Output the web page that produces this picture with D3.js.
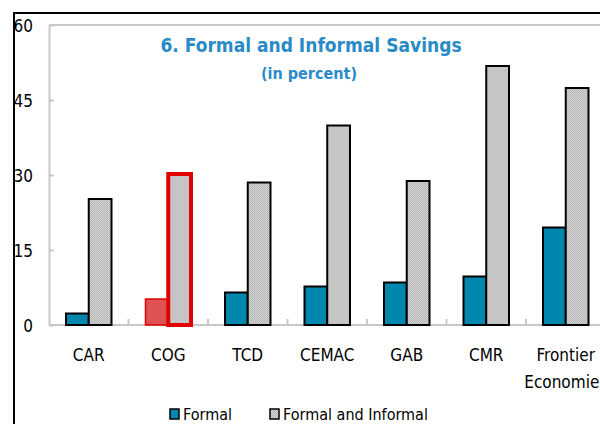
<!DOCTYPE html>
<html>
<head>
<meta charset="utf-8">
<script src="https://cdn.jsdelivr.net/npm/d3@7"></script>
<style>
body { margin: 0; background: #fff; }
text { font-family: 'Liberation Sans Narrow', 'DejaVu Sans Condensed', sans-serif; }
</style>
</head>
<body>
<svg id="chart" width="600" height="424"></svg>
<script>
'use strict';

//Chart data.
const categories = ['CAR', 'COG', 'TCD', 'CEMAC', 'GAB', 'CMR', 'Frontier Economies'];
const formal = [2.3, 5.2, 6.5, 7.7, 8.5, 9.7, 19.5];
const formalInformal = [25.2, 30.2, 28.5, 39.9, 28.8, 51.8, 47.4];
const yTicks = [0, 15, 30, 45, 60];
const highlight = 'COG';
const seriesNames = ['Formal', 'Formal and Informal'];

const width = 600;
const height = 424;
const plot = {left: 49, top: 25, bottom: 325, band: 79.5};

const teal = '#0087ad';
const red = '#e00000';
const axisGrey = '#c8c8c8';
const titleBlue = '#2a8ac8';

const svg = d3.select('#chart');

//Grey dotted fill for the formal and informal bars.
const pat = svg.append('defs').append('pattern')
	.attr('id', 'dots')
	.attr('width', 2)
	.attr('height', 2)
	.attr('patternUnits', 'userSpaceOnUse');
pat.append('rect').attr('width', 2).attr('height', 2).attr('fill', '#d6d6d6');
pat.append('rect').attr('width', 1).attr('height', 1).attr('fill', '#b4b4b4');
pat.append('rect').attr('x', 1).attr('y', 1).attr('width', 1).attr('height', 1).attr('fill', '#b4b4b4');

//Scales.
const xScale = d3.scaleBand()
	.domain(categories)
	.range([plot.left, plot.left + categories.length * plot.band]);
const xInner = d3.scaleBand()
	.domain(['formal', 'total'])
	.range([17, plot.band - 17]);
const yScale = d3.scaleLinear().domain([0, 60]).range([plot.bottom, plot.top]);

//Outer black frame (left and top edges only are visible).
svg.append('line').attr('x1', 14).attr('x2', 14).attr('y1', 12).attr('y2', height)
	.attr('stroke', '#000').attr('stroke-width', 2);
svg.append('line').attr('x1', 13).attr('x2', width).attr('y1', 13).attr('y2', 13)
	.attr('stroke', '#000').attr('stroke-width', 2);

//Grey plot frame top edge.
svg.append('line').attr('x1', plot.left).attr('x2', width).attr('y1', plot.top).attr('y2', plot.top)
	.attr('stroke', axisGrey).attr('stroke-width', 2);

//y-axis
const yAxis = d3.axisLeft(yScale)
	.tickValues(yTicks)
	.tickSizeInner(-5)
	.tickSizeOuter(0)
	.tickPadding(16);
const gy = svg.append('g')
	.attr('transform', `translate(${plot.left},0)`)
	.call(yAxis);
gy.select('.domain').attr('stroke', axisGrey).attr('stroke-width', 2);
gy.selectAll('.tick line').attr('stroke', axisGrey).attr('stroke-width', 2);
gy.selectAll('.tick text')
	.attr('fill', '#000')
	.style('font-size', '17px')
	.attr('dy', '0.38em');

//x-axis baseline and tick marks at category boundaries.
const xAxisG = svg.append('g');
xAxisG.append('line')
	.attr('x1', plot.left).attr('x2', width)
	.attr('y1', plot.bottom).attr('y2', plot.bottom)
	.attr('stroke', axisGrey).attr('stroke-width', 2);
xAxisG.selectAll('.xtick')
	.data(categories.slice(1))
	.enter()
	.append('line')
	.attr('class', 'xtick')
	.attr('x1', (d) => {return xScale(d);})
	.attr('x2', (d) => {return xScale(d);})
	.attr('y1', plot.bottom)
	.attr('y2', plot.bottom - 6)
	.attr('stroke', axisGrey)
	.attr('stroke-width', 2);

//Bars.
const groups = svg.selectAll('.cat')
	.data(categories)
	.enter()
	.append('g')
	.attr('class', 'cat')
	.attr('transform', (d) => {return `translate(${xScale(d)},0)`;});

groups.append('rect')
	.attr('x', xInner('formal'))
	.attr('width', xInner.bandwidth())
	.attr('y', (d, i) => {return yScale(formal[i]);})
	.attr('height', (d, i) => {return plot.bottom - yScale(formal[i]);})
	.attr('fill', (d) => {return d === highlight ? '#de5252' : teal;})
	.attr('stroke', (d) => {return d === highlight ? red : '#000';})
	.attr('stroke-width', (d) => {return d === highlight ? 1.5 : 2;});

groups.append('rect')
	.attr('x', xInner('total'))
	.attr('width', xInner.bandwidth())
	.attr('y', (d, i) => {return yScale(formalInformal[i]);})
	.attr('height', (d, i) => {return plot.bottom - yScale(formalInformal[i]);})
	.attr('fill', 'url(#dots)')
	.attr('stroke', (d) => {return d === highlight ? red : '#000';})
	.attr('stroke-width', (d) => {return d === highlight ? 4 : 2;});

//Category labels, split on spaces into lines.
groups.append('text')
	.attr('x', plot.band / 2)
	.attr('y', 361)
	.attr('text-anchor', 'middle')
	.style('font-size', '17px')
	.attr('fill', '#000')
	.selectAll('tspan')
	.data((d) => {return d.split(' ');})
	.enter()
	.append('tspan')
	.attr('x', plot.band / 2)
	.attr('dy', (d, i) => {return i === 0 ? 0 : 27;})
	.text((d) => {return d;});

//Title.
svg.append('text')
	.attr('x', 311)
	.attr('y', 52)
	.attr('text-anchor', 'middle')
	.attr('fill', titleBlue)
	.style('font-size', '19px')
	.style('font-weight', 'bold')
	.text('6. Formal and Informal Savings');
svg.append('text')
	.attr('x', 309)
	.attr('y', 79)
	.attr('text-anchor', 'middle')
	.attr('fill', titleBlue)
	.style('font-size', '16px')
	.style('font-weight', 'bold')
	.text('(in percent)');

//Legend.
const legendX = [170, 270];
const legend = svg.selectAll('.legend')
	.data(seriesNames)
	.enter()
	.append('g')
	.attr('class', 'legend')
	.attr('transform', (d, i) => {return `translate(${legendX[i]},409)`;});
legend.append('rect')
	.attr('width', 9)
	.attr('height', 10)
	.attr('fill', (d, i) => {return i === 0 ? teal : 'url(#dots)';})
	.attr('stroke', '#000')
	.attr('stroke-width', 1.5);
legend.append('text')
	.attr('x', 13)
	.attr('y', 11)
	.style('font-size', '16px')
	.attr('fill', '#000')
	.text((d) => {return d;});
</script>
</body>
</html>
